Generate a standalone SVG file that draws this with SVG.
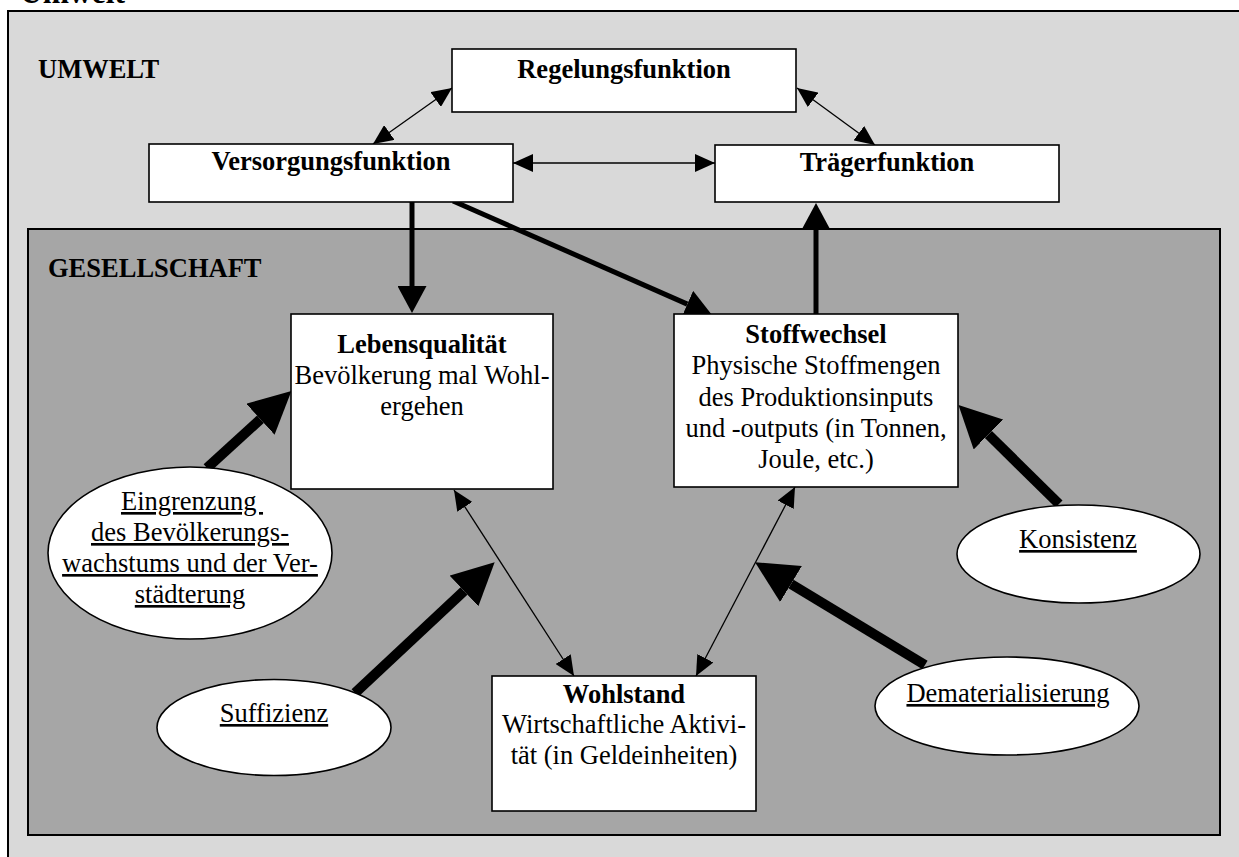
<svg xmlns="http://www.w3.org/2000/svg" width="1239" height="857" viewBox="0 0 1239 857">
<style>
.bg-outer{fill:#d9d9d9;stroke:#000;stroke-width:2}
.bg-inner{fill:#a6a6a6;stroke:#000;stroke-width:2}
.box{fill:#fff;stroke:#000;stroke-width:1.6}
.ell{fill:#fff;stroke:#000;stroke-width:1.6}
text{font-family:"Liberation Serif","Times New Roman",serif;font-size:26.5px;fill:#000}
.b{font-weight:bold}
.c{text-anchor:middle}
.u{text-decoration:underline}
.thin{stroke:#000;stroke-width:1.3;fill:none}
.med{stroke:#000;stroke-width:5;fill:none}
.thick{stroke:#000;stroke-width:10;fill:none}
</style>
<defs>
<marker id="ah-thin" markerUnits="userSpaceOnUse" markerWidth="20" markerHeight="18" viewBox="0 0 20 18" refX="20" refY="9" orient="auto-start-reverse"><path d="M0,0 L20,9 L0,18 z" fill="#000"/></marker>
<marker id="ah-med" markerUnits="userSpaceOnUse" markerWidth="27" markerHeight="29" viewBox="0 0 27 29" refX="0" refY="14.5" orient="auto"><path d="M0,0 L27,14.5 L0,29 z" fill="#000"/></marker>
<marker id="ah-thick" markerUnits="userSpaceOnUse" markerWidth="42" markerHeight="42" viewBox="0 0 42 42" refX="0" refY="21" orient="auto"><path d="M0,0 L42,21 L0,42 z" fill="#000"/></marker>
</defs>

<text class="b" x="20" y="3" style="font-size:31.5px">Umwelt</text>

<g id="umwelt">
<rect class="bg-outer" x="8" y="11" width="1245" height="870"/>
<text class="b" x="38" y="78">UMWELT</text>
</g>

<g id="gesellschaft">
<rect class="bg-inner" x="28" y="229" width="1192" height="606"/>
<text class="b" x="48" y="277">GESELLSCHAFT</text>
</g>

<g id="connectors">
<line class="thin" x1="452" y1="88" x2="373" y2="144" marker-start="url(#ah-thin)" marker-end="url(#ah-thin)"/>
<line class="thin" x1="797" y1="88" x2="875" y2="145" marker-start="url(#ah-thin)" marker-end="url(#ah-thin)"/>
<line class="thin" x1="513" y1="163" x2="715" y2="163" marker-start="url(#ah-thin)" marker-end="url(#ah-thin)"/>
<line class="thin" x1="454" y1="490" x2="574" y2="676" marker-start="url(#ah-thin)" marker-end="url(#ah-thin)"/>
<line class="thin" x1="795" y1="487" x2="696" y2="676" marker-start="url(#ah-thin)" marker-end="url(#ah-thin)"/>
<line class="med" x1="412" y1="202" x2="412" y2="286" marker-end="url(#ah-med)"/>
<line class="med" x1="453" y1="201" x2="687.3" y2="304.1" marker-end="url(#ah-med)"/>
<line class="med" x1="816" y1="314" x2="816" y2="230" marker-end="url(#ah-med)"/>
<line class="thick" x1="207" y1="468" x2="260.4" y2="419.3" marker-end="url(#ah-thick)"/>
<line class="thick" x1="355" y1="693" x2="464" y2="591" marker-end="url(#ah-thick)"/>
<line class="thick" x1="925" y1="665" x2="791" y2="584" marker-end="url(#ah-thick)"/>
<line class="thick" x1="1059" y1="504" x2="988.4" y2="434.5" marker-end="url(#ah-thick)"/>
</g>

<g id="regelungsfunktion">
<rect class="box" x="452" y="49" width="344" height="63"/>
<text class="b c" x="624" y="78">Regelungsfunktion</text>
</g>

<g id="versorgungsfunktion">
<rect class="box" x="149" y="144" width="364" height="58"/>
<text class="b c" x="331" y="170">Versorgungsfunktion</text>
</g>

<g id="traegerfunktion">
<rect class="box" x="715" y="145" width="344" height="57"/>
<text class="b c" x="887" y="171">Trägerfunktion</text>
</g>

<g id="lebensqualitaet">
<rect class="box" x="291" y="314" width="262" height="175"/>
<text class="b c" x="422" y="353">Lebensqualität</text>
<text class="c" x="422" y="384">Bevölkerung mal Wohl-</text>
<text class="c" x="422" y="415">ergehen</text>
</g>

<g id="stoffwechsel">
<rect class="box" x="674" y="314" width="284" height="173"/>
<text class="b c" x="816" y="343">Stoffwechsel</text>
<text class="c" x="816" y="374">Physische Stoffmengen</text>
<text class="c" x="816" y="406">des Produktionsinputs</text>
<text class="c" x="816" y="437">und -outputs (in Tonnen,</text>
<text class="c" x="816" y="468">Joule, etc.)</text>
</g>

<g id="wohlstand">
<rect class="box" x="492" y="676" width="264" height="135"/>
<text class="b c" x="624" y="703">Wohlstand</text>
<text class="c" x="624" y="733">Wirtschaftliche Aktivi-</text>
<text class="c" x="624" y="764">tät (in Geldeinheiten)</text>
</g>

<g id="eingrenzung">
<ellipse class="ell" cx="190" cy="553" rx="142" ry="86"/>
<text class="c u" x="192" y="510">Eingrenzung&#160;</text>
<text class="c u" x="190" y="541">des Bevölkerungs-</text>
<text class="c u" x="190" y="572">wachstums und der Ver-</text>
<text class="c u" x="190" y="603">städterung</text>
</g>

<g id="suffizienz">
<ellipse class="ell" cx="274" cy="727.5" rx="117" ry="48"/>
<text class="c u" x="274" y="722">Suffizienz</text>
</g>

<g id="dematerialisierung">
<ellipse class="ell" cx="1007" cy="706" rx="132" ry="49"/>
<text class="c u" x="1008" y="702">Dematerialisierung</text>
</g>

<g id="konsistenz">
<ellipse class="ell" cx="1078.5" cy="554" rx="121.5" ry="49"/>
<text class="c u" x="1078" y="548">Konsistenz</text>
</g>
</svg>
